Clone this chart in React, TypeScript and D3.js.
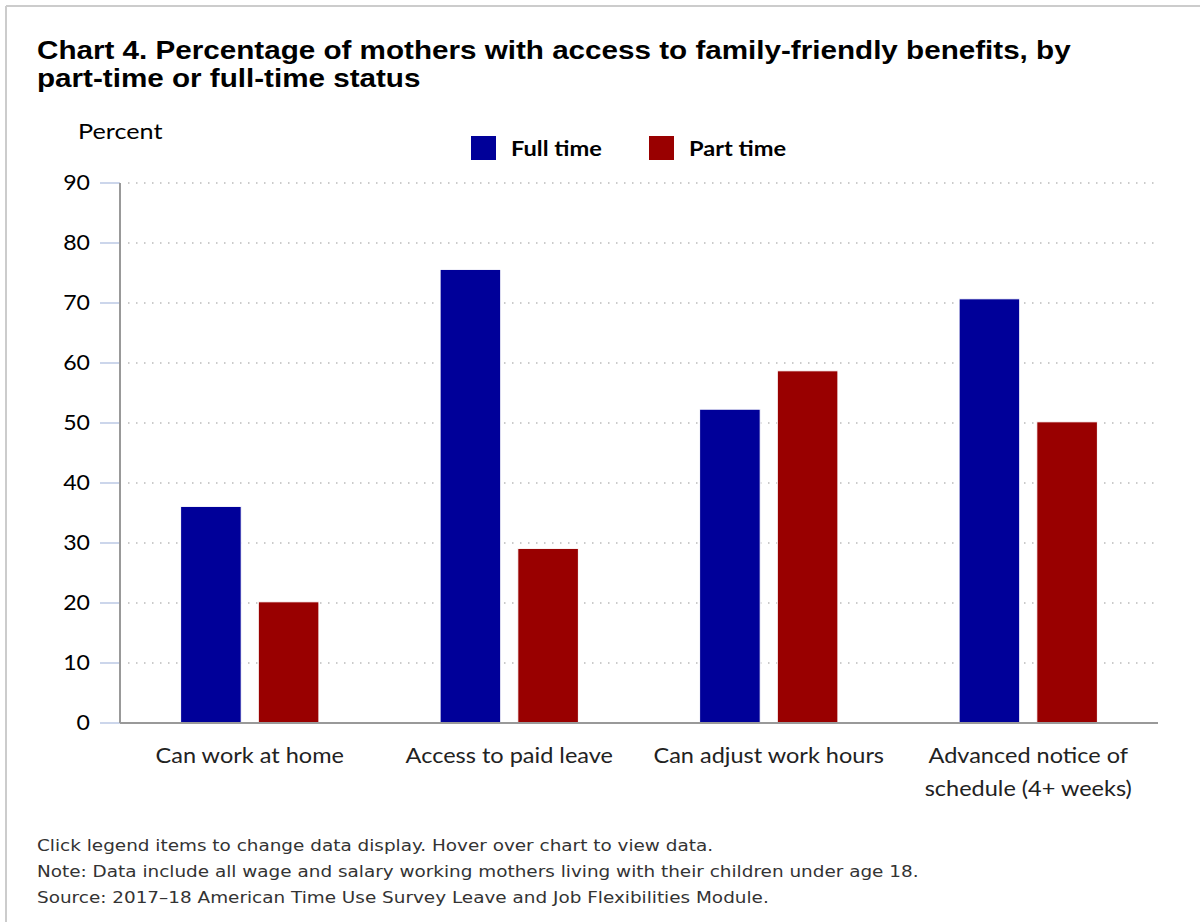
import React from "react";
import * as d3 from "d3";

const categories = [
  ["Can work at home"],
  ["Access to paid leave"],
  ["Can adjust work hours"],
  ["Advanced notice of", "schedule (4+ weeks)"],
];
const fullTime = [36.1, 75.6, 52.3, 70.7];
const partTime = [20.2, 29.1, 58.7, 50.2];
const seriesNames = ["Full time", "Part time"];
const seriesColors = ["#000099", "#990000"];
const yTicks = [0, 10, 20, 30, 40, 50, 60, 70, 80, 90];
const titleLines = [
  "Chart 4. Percentage of mothers with access to family-friendly benefits, by",
  "part-time or full-time status",
];
const notes = [
  "Click legend items to change data display. Hover over chart to view data.",
  "Note: Data include all wage and salary working mothers living with their children under age 18.",
  "Source: 2017\u201318 American Time Use Survey Leave and Job Flexibilities Module.",
];

export default function App() {
  const W = 1200, H = 922;
  const left = 120, right = 1158, top = 183, bottom = 723;
  const y = d3.scaleLinear().domain([0, 90]).range([bottom, top]);
  const x0 = d3.scaleBand().domain(categories.map((_, i) => String(i))).range([left, right]).paddingInner(0).paddingOuter(0);
  const x1 = d3.scaleBand().domain(["0", "1"]).range([0, x0.bandwidth()]).paddingInner(0.22).paddingOuter(0.78);
  const series = [fullTime, partTime];
  const labelFont = "Lato, 'Open Sans', sans-serif";
  const sx = 1.12;
  return (
    <svg width={W} height={H} style={{ position: "absolute", left: 0, top: 0, background: "#fff" }}>
      <rect x={0} y={0} width={W} height={H} fill="#fff" />
      <line x1={6} y1={6} x2={W} y2={6} stroke="#cccccc" strokeWidth={2} />
      <line x1={6} y1={6} x2={6} y2={H} stroke="#cccccc" strokeWidth={2} />
      {titleLines.map((t, i) => (
        <text key={i} transform={`translate(37,${59 + i * 28}) scale(1.14,1)`} fontFamily="'Liberation Sans', Arial, sans-serif" fontWeight="bold" fontSize={26} fill="#000">{t}</text>
      ))}
      <text transform={`translate(78,139) scale(1.2,1)`} fontFamily={labelFont} fontSize={21} fill="#000">Percent</text>
      {seriesNames.map((s, i) => (
        <g key={s} transform={`translate(${471 + i * 178},136)`}>
          <rect x={0} y={0} width={25} height={24} fill={seriesColors[i]} />
          <text transform="translate(40,20) scale(1.18,1)" fontFamily={labelFont} fontWeight="bold" fontSize={20} fill="#000">{s}</text>
        </g>
      ))}
      {yTicks.map((t) => (
        <g key={t}>
          {t > 0 && (
            <line x1={128} x2={right} y1={y(t)} y2={y(t)} stroke="#bbbbbb" strokeWidth={1.5} strokeDasharray="1.5 6.5" />
          )}
          <line x1={100} x2={left} y1={y(t)} y2={y(t)} stroke="#ccd6eb" strokeWidth={2} />
          <text transform={`translate(90,${y(t) + 7}) scale(1.1,1)`} textAnchor="end" fontFamily={labelFont} fontSize={21} fill="#000">{t}</text>
        </g>
      ))}
      {categories.map((c, ci) => (
        <g key={ci} transform={`translate(${x0(String(ci))},0)`}>
          {series.map((vals, si) => (
            <rect key={si} x={x1(String(si))} y={y(vals[ci])} width={x1.bandwidth()} height={bottom - y(vals[ci])} fill={seriesColors[si]} stroke="#ffffff" strokeWidth={1} />
          ))}
          {c.map((line, li) => (
            <text key={li} transform={`translate(${x0.bandwidth() / 2},${763 + li * 33}) scale(${sx},1)`} textAnchor="middle" fontFamily={labelFont} fontSize={21} fill="#222">{line}</text>
          ))}
        </g>
      ))}
      <line x1={left} x2={left} y1={top} y2={bottom} stroke="#999999" strokeWidth={2} />
      <line x1={left} x2={right} y1={bottom} y2={bottom} stroke="#999999" strokeWidth={2} />
      {notes.map((n, i) => (
        <text key={i} transform={`translate(37,${851 + i * 26}) scale(1.13,1)`} fontFamily="'DejaVu Sans', Verdana, sans-serif" fontSize={16.3} fill="#333">{n}</text>
      ))}
    </svg>
  );
}
